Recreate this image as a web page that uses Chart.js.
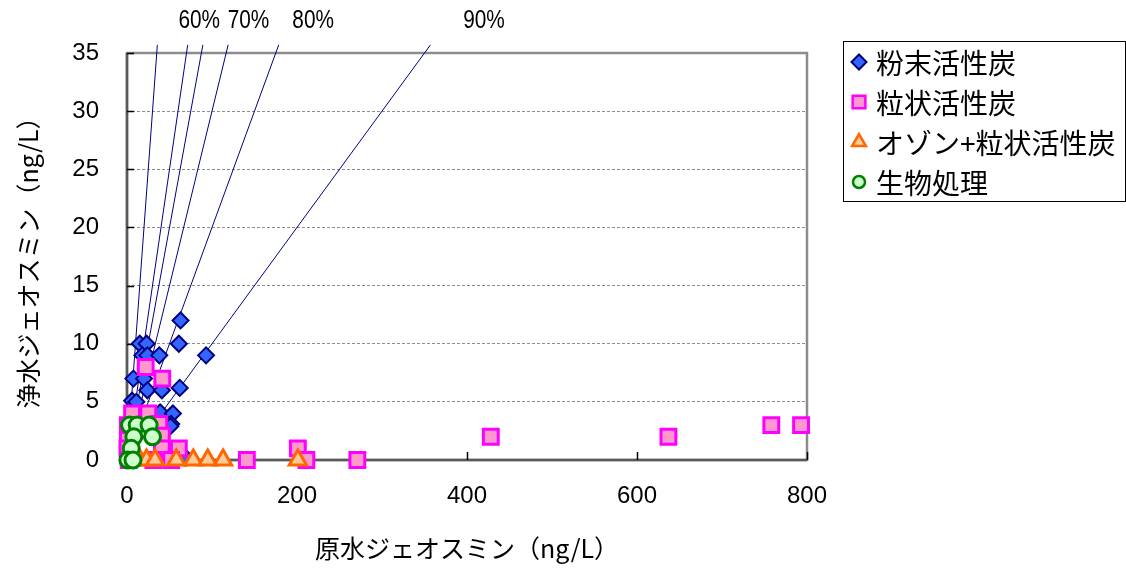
<!DOCTYPE html>
<html>
<head>
<meta charset="utf-8">
<script src="https://cdn.jsdelivr.net/npm/chart.js@4.4.1/dist/chart.umd.min.js"></script>
<style>
    html, body { margin: 0; padding: 0; background: #fff; }
    #chart { display: block; }
</style>
</head>
<body>
<canvas id="chart" width="1126" height="568"></canvas>
<script>
// ------------------------------- data -------------------------------
var seriesNames = ['粉末活性炭', '粒状活性炭', 'オゾン+粒状活性炭', '生物処理'];

// 粉末活性炭 (原水, 浄水)
var powderX = [63, 61, 93, 15, 23, 18, 24, 38, 7.5, 20, 24, 41, 62, 6, 11, 39, 54, 52, 51, 69];
var powderY = [12, 10, 9, 10, 10, 9, 9, 9, 7, 7, 6, 6, 6.2, 5.1, 5, 4.1, 4, 3.1, 2.9, 0.2];

// 粒状活性炭
var granX = [22, 41.5, 6, 25, 38, 41, 41, 61, 1, 0.5, 1, 2, 31, 52, 141, 201, 211, 271, 428, 637, 758, 793];
var granY = [8, 7, 4, 4, 3.1, 2.1, 1, 1, 2.1, 1, 3, 0, 0, 0, 0, 1, 0, 0, 2, 2, 3, 3];

// オゾン+粒状活性炭
var ozoneX = [5, 15, 23, 33, 58, 78, 95, 113, 201];
var ozoneY = [0, 0, 0, 0, 0, 0, 0, 0, 0];

// 生物処理
var bioX = [3, 12, 26, 8, 30, 5, 1, 7];
var bioY = [3, 3, 3, 2, 2, 1, 0, 0];

// 除去率の補助線 (%)
var removalRates = [0, 50, 60, 70, 80, 90];
var lineTopY = 35.7;
var rateLabels = ['60%', '70%', '80%', '90%'];
var rateLabelX = [85, 143, 219, 420];
var rateLabelY = 37.8;

var xTicks = [0, 200, 400, 600, 800];
var yTicks = [0, 5, 10, 15, 20, 25, 30, 35];

// ------------------------------- helpers -------------------------------
function toPoints(xs, ys) {
    var pts = [];
    for (var i = 0; i < xs.length; i++) {
        pts.push({ x: xs[i], y: ys[i] });
    }
    return pts;
}

var styles = [
    { pointStyle: 'rectRot', radius: 8, bg: '#3366ff', border: '#000080', bw: 2, legendRadius: 7.5 },
    { pointStyle: 'rect', radius: 10.5, bg: '#ff99cc', border: '#ff00ff', bw: 3, legendRadius: 9 },
    { pointStyle: 'triangle', radius: 10, bg: '#ffcc99', border: '#ff6600', bw: 3, legendRadius: 8 },
    { pointStyle: 'circle', radius: 8, bg: '#ccffcc', border: '#008000', bw: 3, legendRadius: 6 }
];
var seriesData = [toPoints(powderX, powderY), toPoints(granX, granY), toPoints(ozoneX, ozoneY), toPoints(bioX, bioY)];

var datasets = [];
// 補助線
for (var r = 0; r < removalRates.length; r++) {
    var k = 1 - removalRates[r] / 100;
    datasets.push({
        type: 'line',
        label: 'rate' + removalRates[r],
        data: [{ x: 0, y: 0 }, { x: lineTopY / k, y: lineTopY }],
        borderColor: '#000080',
        borderWidth: 1,
        pointRadius: 0,
        fill: false,
        clip: false,
        order: 10
    });
}
// 散布図
for (var s = 0; s < seriesNames.length; s++) {
    datasets.push({
        label: seriesNames[s],
        data: seriesData[s],
        pointStyle: styles[s].pointStyle,
        pointRadius: styles[s].radius,
        pointBackgroundColor: styles[s].bg,
        pointBorderColor: styles[s].border,
        pointBorderWidth: styles[s].bw,
        showLine: false,
        clip: false,
        order: 4 - s
    });
}

// ------------------------------- plugins -------------------------------
var frameAndTicks = {
    id: 'frameAndTicks',
    beforeDatasetsDraw: function (chart) {
        var ctx = chart.ctx, a = chart.chartArea;
        var xs = chart.scales.x, ys = chart.scales.y;
        ctx.save();
        // 外枠
        ctx.strokeStyle = '#8c8c8c';
        ctx.lineWidth = 2.5;
        ctx.strokeRect(a.left, a.top, a.right - a.left, a.bottom - a.top);
        // 軸線
        ctx.strokeStyle = '#595959';
        ctx.lineWidth = 2.5;
        ctx.beginPath();
        ctx.moveTo(a.left, a.top);
        ctx.lineTo(a.left, a.bottom);
        ctx.lineTo(a.right, a.bottom);
        ctx.stroke();
        // 内向きの目盛り
        ctx.strokeStyle = '#000';
        ctx.lineWidth = 1.5;
        ctx.beginPath();
        for (var i = 0; i < yTicks.length; i++) {
            var py = Math.round(ys.getPixelForValue(yTicks[i])) + 0.5;
            ctx.moveTo(a.left, py);
            ctx.lineTo(a.left + 7, py);
        }
        for (var j = 0; j < xTicks.length; j++) {
            var px = Math.round(xs.getPixelForValue(xTicks[j])) + 0.5;
            ctx.moveTo(px, a.bottom);
            ctx.lineTo(px, a.bottom - 8);
        }
        ctx.stroke();
        ctx.restore();
    },
    afterDraw: function (chart) {
        var ctx = chart.ctx;
        var xs = chart.scales.x, ys = chart.scales.y;
        ctx.save();
        // 除去率ラベル (細めの字体なので横に縮める)
        ctx.fillStyle = '#000';
        ctx.font = "26px 'Liberation Sans', Arial, sans-serif";
        ctx.textAlign = 'center';
        ctx.textBaseline = 'middle';
        for (var i = 0; i < rateLabels.length; i++) {
            var lx = xs.getPixelForValue(rateLabelX[i]);
            var ly = ys.getPixelForValue(rateLabelY);
            ctx.save();
            ctx.translate(lx, ly);
            ctx.scale(0.8, 1);
            ctx.fillText(rateLabels[i], 0, 0);
            ctx.restore();
        }
        // 凡例
        ctx.fillStyle = '#fff';
        ctx.fillRect(843, 41, 282, 160);
        ctx.strokeStyle = '#000';
        ctx.lineWidth = 1;
        ctx.strokeRect(843.5, 41.5, 282, 160);
        ctx.font = "28px 'Noto Sans CJK JP', sans-serif";
        ctx.textAlign = 'left';
        for (var s = 0; s < seriesNames.length; s++) {
            var y = 62 + s * 40;
            ctx.fillStyle = styles[s].bg;
            ctx.strokeStyle = styles[s].border;
            ctx.lineWidth = s === 0 ? 2 : 2.5;
            Chart.helpers.drawPoint(ctx, {
                pointStyle: styles[s].pointStyle,
                radius: styles[s].legendRadius,
                borderWidth: 2,
                rotation: 0
            }, 859, y);
            ctx.fillStyle = '#000';
            ctx.fillText(seriesNames[s], 876, y + 1);
        }
        ctx.restore();
    }
};

// ------------------------------- chart -------------------------------
var ctx = document.getElementById('chart').getContext('2d');
var tickFont = { family: "'Liberation Sans', Arial, sans-serif", size: 24 };
var titleFont = { family: "'Noto Sans CJK JP', sans-serif", size: 25 };

var chart = new Chart(ctx, {
    type: 'scatter',
    data: { datasets: datasets },
    options: {
        responsive: false,
        animation: false,
        devicePixelRatio: 1,
        layout: { padding: { top: 53, right: 319, left: 0, bottom: 0 } },
        plugins: {
            legend: { display: false },
            tooltip: { enabled: false }
        },
        scales: {
            x: {
                type: 'linear',
                min: 0,
                max: 800,
                afterBuildTicks: function (scale) {
                    scale.ticks = xTicks.map(function (v) { return { value: v }; });
                },
                afterFit: function (scale) { scale.height = 108; },
                grid: { display: false, drawTicks: false },
                border: { display: false },
                ticks: { color: '#000', font: tickFont, padding: 22, maxRotation: 0 },
                title: {
                    display: true,
                    text: '原水ジェオスミン（ng/L）',
                    color: '#000',
                    font: titleFont,
                    padding: { top: 0, bottom: 5 }
                }
            },
            y: {
                type: 'linear',
                min: 0,
                max: 35,
                afterBuildTicks: function (scale) {
                    scale.ticks = yTicks.map(function (v) { return { value: v }; });
                },
                afterFit: function (scale) { scale.width = 127; },
                grid: { color: '#8c8c8c', lineWidth: 1, drawTicks: false },
                border: { display: false, dash: [3, 2] },
                ticks: { color: '#000', font: tickFont, padding: 28 },
                title: {
                    display: true,
                    text: '浄水ジェオスミン（ng/L）',
                    color: '#000',
                    font: titleFont,
                    padding: { top: 13, bottom: 0 }
                }
            }
        }
    },
    plugins: [frameAndTicks]
});
</script>
</body>
</html>
